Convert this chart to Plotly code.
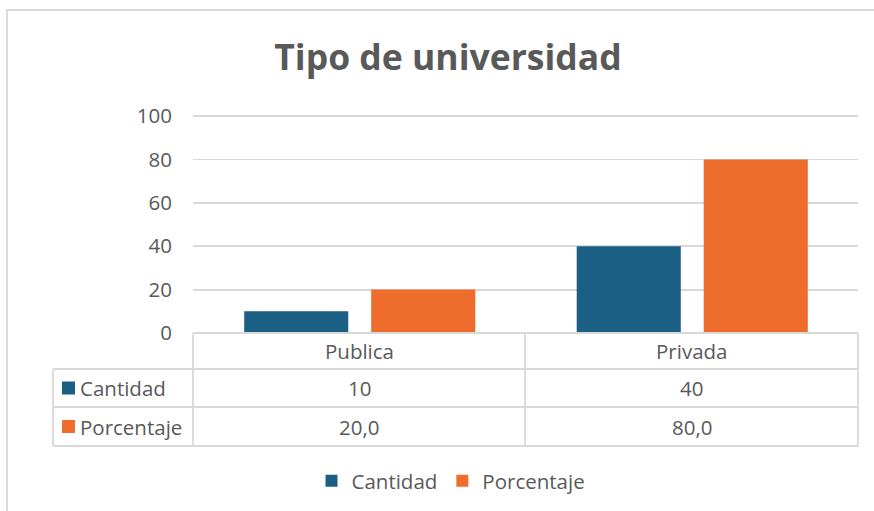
import plotly.graph_objects as go

# ---- data ----
categories = ["Publica", "Privada"]
series_names = ["Cantidad", "Porcentaje"]
cantidad = [10, 40]
porcentaje = [20.0, 80.0]
y_ticks = [0, 20, 40, 60, 80, 100]
title_text = "Tipo de universidad"

# ---- styling ----
W, H = 874, 511
FONT = "Open Sans"
TXT = "#595959"
GRID = "#D9D9D9"
BLUE = "#1C5F85"
ORANGE = "#EE6C2C"
colors = [BLUE, ORANGE]
FS = 20.5


def px(x):
    return x / W


def py(y):
    return 1 - y / H


def fmt(v):
    if isinstance(v, float):
        return f"{v:.1f}".replace(".", ",")
    return str(v)


x_pos = list(range(len(categories)))
offsets = [-0.346, 0.036]
bar_w = 0.313
series_vals = [cantidad, porcentaje]

fig = go.Figure()
for name, vals, col, off in zip(series_names, series_vals, colors, offsets):
    fig.add_trace(go.Bar(
        x=x_pos, y=vals, name=name,
        marker=dict(color=col, line=dict(width=0)),
        width=[bar_w] * len(vals), offset=[off] * len(vals),
        hoverinfo="skip",
    ))

shapes = []
annotations = []
line = dict(color=GRID, width=1.8)

# outer chart border
shapes.append(dict(type="rect", xref="paper", yref="paper",
                   x0=px(7), x1=px(890), y0=py(10), y1=py(530),
                   line=line, layer="below"))

# data table grid
table_left, col0, col_mid, col_right = 53, 193, 525, 858
y_top, y_r1, y_r2, y_bot = 333, 369, 407, 446
shapes.append(dict(type="line", xref="paper", yref="paper",
                   x0=px(col0), x1=px(col_right), y0=py(y_top), y1=py(y_top), line=line))
for yy in (y_r1, y_r2, y_bot):
    shapes.append(dict(type="line", xref="paper", yref="paper",
                       x0=px(table_left), x1=px(col_right), y0=py(yy), y1=py(yy), line=line))
shapes.append(dict(type="line", xref="paper", yref="paper",
                   x0=px(table_left), x1=px(table_left), y0=py(y_r1), y1=py(y_bot), line=line))
for xx in (col0, col_mid, col_right):
    shapes.append(dict(type="line", xref="paper", yref="paper",
                       x0=px(xx), x1=px(xx), y0=py(y_top), y1=py(y_bot), line=line))

font_tbl = dict(family=FONT, size=FS, color=TXT)
col_centers = [(col0 + col_mid) / 2, (col_mid + col_right) / 2]
for c, cx in zip(categories, col_centers):
    annotations.append(dict(text=c, x=px(cx), y=py((y_top + y_r1) / 2),
                            xref="paper", yref="paper", showarrow=False,
                            xanchor="center", yanchor="middle", font=font_tbl))
row_centers = [(y_r1 + y_r2) / 2, (y_r2 + y_bot) / 2]
for name, vals, col, ry in zip(series_names, series_vals, colors, row_centers):
    shapes.append(dict(type="rect", xref="paper", yref="paper",
                       x0=px(62), x1=px(75), y0=py(ry - 6.5), y1=py(ry + 6.5),
                       fillcolor=col, line=dict(width=0)))
    annotations.append(dict(text=name, x=px(78), y=py(ry), xref="paper", yref="paper",
                            showarrow=False, xanchor="left", yanchor="middle", font=font_tbl))
    for v, cx in zip(vals, col_centers):
        annotations.append(dict(text=fmt(v), x=px(cx), y=py(ry), xref="paper", yref="paper",
                                showarrow=False, xanchor="center", yanchor="middle",
                                font=font_tbl))

px_per_unit = (y_top - 116) / 100.0
y_max = 101
fig.update_layout(
    width=W, height=H,
    margin=dict(l=0, r=0, t=0, b=0, pad=0, autoexpand=False),
    paper_bgcolor="white", plot_bgcolor="white",
    title=dict(text=title_text, x=px(448), y=py(58), xanchor="center", yanchor="middle",
               font=dict(family=FONT, size=35.5, color=TXT, weight="bold")),
    barmode="overlay",
    xaxis=dict(domain=[px(col0), px(col_right)], range=[-0.5, len(categories) - 0.5],
               showgrid=False, zeroline=False, showline=False, showticklabels=False,
               fixedrange=True, automargin=False),
    yaxis=dict(domain=[py(y_top), py(y_top - y_max * px_per_unit)], range=[0, y_max],
               tickvals=y_ticks,
               showgrid=True, gridcolor=GRID, gridwidth=1.8, zeroline=False,
               showline=False, ticks="", ticklabelstandoff=20, automargin=False,
               tickfont=dict(family=FONT, size=FS, color=TXT), fixedrange=True),
    showlegend=True,
    legend=dict(orientation="h", x=px(451), xanchor="center", y=py(481), yanchor="middle",
                font=dict(family=FONT, size=FS, color=TXT), traceorder="normal",
                itemclick=False, itemdoubleclick=False),
    shapes=shapes,
    annotations=annotations,
)

fig.write_html(
    "out.html",
    config={"displayModeBar": False, "staticPlot": True},
    post_script="document.body.style.margin='0';document.body.style.overflow='hidden';",
)
